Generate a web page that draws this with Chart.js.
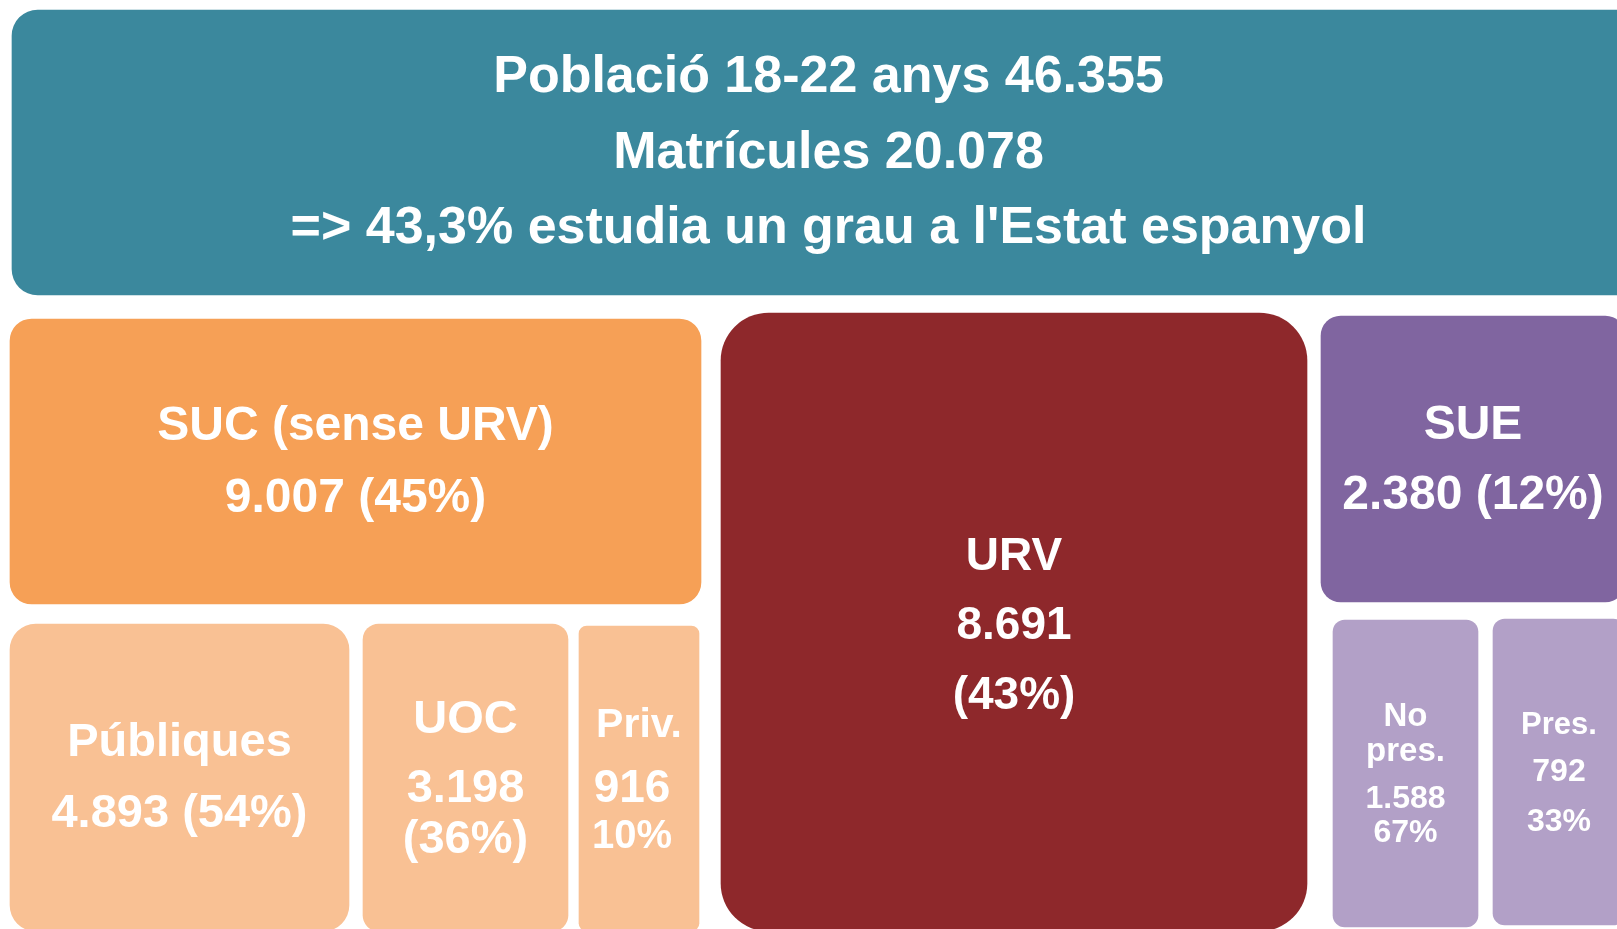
<!DOCTYPE html>
<html>
<head>
<meta charset="utf-8">
<script src="https://cdn.jsdelivr.net/npm/chart.js@4/dist/chart.umd.min.js"></script>
<style>
  html, body { margin: 0; padding: 0; background: #ffffff; }
  #wrap { width: 1617px; height: 929px; position: relative; }
</style>
</head>
<body>
<div id="wrap"><canvas id="c"></canvas></div>
<script>
// ---------------- DATA ----------------
const populationLabel = 'Població 18-22 anys';
const population = 46355;
const enrolmentLabel = 'Matrícules';
const enrolment = 20078;
const enrolmentRate = 43.3;
const rateSentence = "estudia un grau a l'Estat espanyol";

const units = ['SUC (sense URV)', 'Públiques', 'UOC', 'Priv.', 'URV', 'SUE', 'No pres.', 'Pres.'];
const enrolled = [9007, 4893, 3198, 916, 8691, 2380, 1588, 792];
const shares = [45, 54, 36, 10, 43, 12, 67, 33];

// ---------------- LAYOUT (scale units of a 1617 x 929 board) ----------------
const boxIds   = ['banner', 'SUC (sense URV)', 'Públiques', 'UOC', 'Priv.', 'URV', 'SUE', 'No pres.', 'Pres.'];
const boxLeft  = [12,   10,  10,  363, 579, 721,  1321, 1333, 1493];
const boxRight = [1645, 701, 349, 568, 699, 1307, 1625, 1478, 1625];
const boxTop   = [10,   319, 624, 624, 626, 313,  316,  620,  619];
const boxBot   = [295,  604, 931, 931, 931, 931,  602,  927,  925];
const boxRadius = [26, 22, 26, 16, 8, 48, 20, 12, 12];
const boxColors = ['#3B889D', '#F6A056', '#F9C194', '#F9C194', '#F9C194', '#8E282B', '#8065A0', '#B2A0C7', '#B2A0C7'];
const labelFormat = ['banner', 'inline', 'inline', 'stack', 'bare', 'stack', 'inline', 'split', 'bare'];
const textNudge = 3;
const lineOffsets = [
  [-78, -2, 73],
  [-38, 34],
  [-37, 34],
  [-60, 9, 60],
  [-56, 8, 55],
  [-68, 1, 71],
  [-36, 34],
  [-60, -25, 23, 57],
  [-50, -3, 47]
];
const lineShiftX = [
  [0, 0, 0],
  [0, 0],
  [0, 0],
  [0, 0, 0],
  [0, -7, -7],
  [0, 0, 0],
  [0, 0],
  [0, 0, 0, 0],
  [0, 0, 0]
];
const lineSizes = [
  [52, 52, 52],
  [48, 48],
  [47, 47],
  [47, 47, 47],
  [41, 46, 40],
  [46, 46, 46],
  [48, 48],
  [33, 33, 32, 32],
  [31, 32, 32]
];

// ---------------- helpers ----------------
function fmt(n) { return String(n).replace(/\B(?=(\d{3})+(?!\d))/g, '.'); }
function fmtDec(n) { return String(n).replace('.', ','); }

function labelLines(i) {
  const f = labelFormat[i];
  if (f === 'banner') {
    return [
      populationLabel + ' ' + fmt(population),
      enrolmentLabel + ' ' + fmt(enrolment),
      '=> ' + fmtDec(enrolmentRate) + '% ' + rateSentence
    ];
  }
  const k = units.indexOf(boxIds[i]);
  const name = units[k], num = fmt(enrolled[k]), pct = shares[k];
  if (f === 'inline') return [name, num + ' (' + pct + '%)'];
  if (f === 'stack') return [name, num, '(' + pct + '%)'];
  if (f === 'bare') return [name, num, pct + '%'];
  if (f === 'split') return name.split(' ').concat([num, pct + '%']);
  return [name];
}

const datasets = boxIds.map((id, i) => ({
  label: id,
  data: [{ y: (boxTop[i] + boxBot[i]) / 2, x: [boxLeft[i], boxRight[i]] }],
  backgroundColor: boxColors[i],
  borderWidth: 0,
  borderRadius: boxRadius[i],
  borderSkipped: false,
  barThickness: boxBot[i] - boxTop[i],
  stack: 'board'
}));

const labelPlugin = {
  id: 'boxLabels',
  afterDatasetsDraw(chart) {
    const ctx = chart.ctx;
    ctx.save();
    ctx.fillStyle = '#ffffff';
    ctx.textAlign = 'center';
    ctx.textBaseline = 'middle';
    chart.data.datasets.forEach((ds, i) => {
      const el = chart.getDatasetMeta(i).data[0];
      if (!el) return;
      const cx = (el.x + el.base) / 2;
      const cy = el.y + textNudge;
      const lines = labelLines(i);
      lines.forEach((t, j) => {
        ctx.font = 'bold ' + lineSizes[i][j] + 'px "Liberation Sans", Arial, sans-serif';
        ctx.fillText(t, cx + lineShiftX[i][j], cy + lineOffsets[i][j]);
      });
    });
    ctx.restore();
  }
};

new Chart(document.getElementById('c'), {
  type: 'bar',
  data: { datasets },
  options: {
    indexAxis: 'y',
    responsive: true,
    maintainAspectRatio: false,
    animation: false,
    events: [],
    layout: { padding: 0 },
    plugins: { legend: { display: false }, tooltip: { enabled: false }, title: { display: false } },
    scales: {
      x: { type: 'linear', min: 0, max: 1617, display: false, stacked: false, offset: false, grace: 0 },
      y: { type: 'linear', min: 0, max: 929, reverse: true, display: false, offset: false, grace: 0 }
    }
  },
  plugins: [labelPlugin]
});
</script>
</body>
</html>
